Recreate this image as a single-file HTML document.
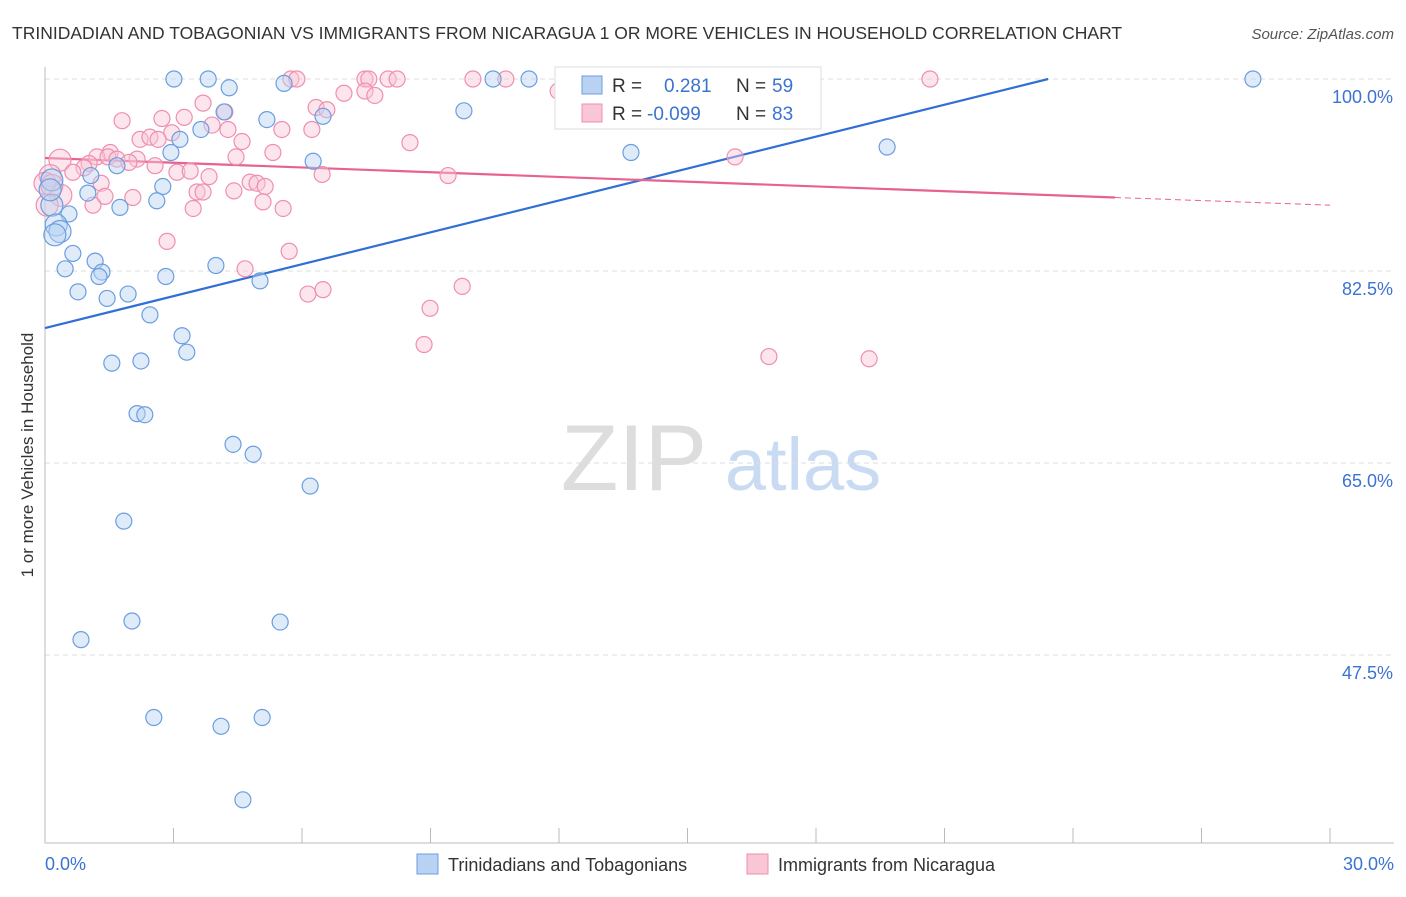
<!DOCTYPE html>
<html><head><meta charset="utf-8"><style>
body{margin:0;background:#fff;font-family:"Liberation Sans",sans-serif}
svg text{font-family:"Liberation Sans",sans-serif}
</style></head><body>
<svg id="chart" width="1406" height="892">
<text x="12" y="39" font-size="17.5" fill="#333">TRINIDADIAN AND TOBAGONIAN VS IMMIGRANTS FROM NICARAGUA 1 OR MORE VEHICLES IN HOUSEHOLD CORRELATION CHART</text>
<text x="1394" y="39" font-size="15" fill="#555" font-style="italic" text-anchor="end">Source: ZipAtlas.com</text>
<text x="0" y="0" transform="translate(33,455) rotate(-90)" font-size="17" fill="#333" text-anchor="middle">1 or more Vehicles in Household</text>
<g><text x="634" y="490" font-size="94" fill="#ddd" font-family="Liberation Serif" text-anchor="middle">ZIP</text><text x="803" y="490" font-size="74" fill="#c9dbf2" text-anchor="middle">atlas</text></g>
<g id="grid"></g><g id="axes"></g><g id="trends"></g><g id="pts"></g>
<g>
<rect x="555" y="67" width="266" height="62" fill="#fff" stroke="#ddd"/>
<rect x="582" y="76" width="20" height="18" fill="#b9d2f2" stroke="#6a9ee0"/>
<rect x="582" y="104" width="20" height="18" fill="#f9c6d6" stroke="#ef8fb0"/>
<text x="612" y="92" font-size="19" fill="#333">R =</text><text x="664" y="92" font-size="19" fill="#3b73d1">0.281</text>
<text x="736" y="92" font-size="19" fill="#333">N =</text><text x="772" y="92" font-size="19" fill="#3b73d1">59</text>
<text x="612" y="120" font-size="19" fill="#333">R =</text><text x="647" y="120" font-size="19" fill="#3b73d1">-0.099</text>
<text x="736" y="120" font-size="19" fill="#333">N =</text><text x="772" y="120" font-size="19" fill="#3b73d1">83</text>
</g>
<g>
<rect x="417" y="854" width="21" height="20" fill="#b9d2f2" stroke="#6a9ee0"/>
<text x="448" y="871" font-size="18" fill="#333">Trinidadians and Tobagonians</text>
<rect x="747" y="854" width="21" height="20" fill="#f9c6d6" stroke="#ef8fb0"/>
<text x="778" y="871" font-size="18" fill="#333">Immigrants from Nicaragua</text>
</g>
</svg>
<script>
const xTicks=[0,3,6,9,12,15,18,21,24,27,30];
const yTicks=[100,82.5,65,47.5];
const yTickLabels=["100.0%","82.5%","65.0%","47.5%"];
const xTickLabels=["0.0%","30.0%"];
const blueX=[3.01,3.81,4.30,5.58,10.46,11.30,28.20,4.18,5.18,6.49,9.78,3.64,3.15,2.94,13.68,19.66,6.26,1.68,1.07,2.75,2.61,1.75,0.16,0.56,0.26,0.35,0.23,0.65,1.17,0.47,1.33,1.26,3.99,2.82,5.02,0.77,1.45,1.94,2.45,3.20,3.31,1.56,2.24,2.15,2.33,4.39,4.86,6.19,1.84,2.03,0.84,5.49,2.54,5.07,4.11,4.62,0.16,0.12,1.00];
const blueY=[100,100,99.2,99.6,100,100,100,97.0,96.3,96.6,97.1,95.4,94.5,93.3,93.3,93.8,92.5,92.1,91.2,90.2,88.9,88.3,88.5,87.7,86.7,86.1,85.8,84.1,83.4,82.7,82.4,82.0,83.0,82.0,81.6,80.6,80.0,80.4,78.5,76.6,75.1,74.1,74.3,69.5,69.4,66.7,65.8,62.9,59.7,50.6,48.9,50.5,41.8,41.8,41.0,34.3,90.8,89.9,89.6];
const pinkX=[5.74,5.88,7.47,7.56,8.01,8.22,9.99,10.76,20.66,11.98,7.47,7.70,6.98,6.33,6.58,3.69,4.20,1.80,2.73,3.25,3.90,4.27,6.23,5.53,2.96,2.22,2.45,2.64,4.60,8.52,1.52,1.21,2.15,5.32,4.46,16.11,0.35,1.03,1.47,1.68,1.96,2.57,0.91,0.65,3.08,3.39,3.83,6.47,9.41,0.12,0.0,1.31,4.79,4.95,5.14,4.41,3.55,3.69,2.05,1.40,0.37,1.12,3.46,5.09,5.56,2.85,5.70,4.67,6.14,6.49,9.74,8.99,8.85,16.90,19.24,0.16,0.05];
const pinkY=[100,100,100,100,100,100,100,100,100,98.9,98.9,98.5,98.7,97.4,97.2,97.8,97.0,96.2,96.4,96.5,95.8,95.4,95.4,95.4,95.1,94.5,94.7,94.5,94.3,94.2,93.3,92.9,92.7,93.3,92.9,92.9,92.6,92.3,92.9,92.7,92.4,92.1,91.9,91.5,91.5,91.6,91.1,91.3,91.2,91.2,90.5,90.5,90.6,90.5,90.2,89.8,89.7,89.7,89.2,89.3,89.4,88.5,88.2,88.8,88.2,85.2,84.3,82.7,80.4,80.8,81.1,79.1,75.8,74.7,74.5,90.3,88.5];
const blueTrend=[[0,77.3],[23.42,100]];
const pinkTrend=[[0,92.8],[24.98,89.2]];
const pinkTrendExt=[[24.98,89.2],[30,88.5]];
const X=v=>45+v/30*1285, Y=v=>79+(100-v)/17.5*192;
const NS="http://www.w3.org/2000/svg";
function mk(p,t,a){const e=document.createElementNS(NS,t);for(const k in a)e.setAttribute(k,a[k]);document.getElementById(p).appendChild(e);return e;}
yTicks.forEach((t,i)=>{
 const l=mk('grid','line',{x1:45,x2:1394,y1:Y(t),y2:Y(t),stroke:'#ddd','stroke-dasharray':'5,4'});
 
 
 const tx=mk('grid','text',{x:1393,y:Y(t)+24,'font-size':18,fill:'#3b73d1','text-anchor':'end'});tx.textContent=yTickLabels[i];
 
 
});
const ax=mk('axes','path',{d:'M45,67V843H1394',stroke:'#bbb',fill:'none'});


xTicks.forEach(t=>{const l=mk('axes','line',{x1:X(t),x2:X(t),y1:828,y2:843,stroke:'#bbb'});
 
 });
[[0,'start',45],[30,'end',1394]].forEach((d,i)=>{const tx=mk('axes','text',{x:d[2],y:870,'font-size':18,fill:'#3b73d1','text-anchor':d[1]});tx.textContent=xTickLabels[i];
 
 });
function dot(x,y,f,s,name,big){const c=mk('pts','circle',{cx:X(x),cy:Y(y),r:big?11:8,fill:f,'fill-opacity':0.45,stroke:s,'stroke-width':1.2});
 
 }
pinkX.forEach((x,i)=>dot(x,pinkY[i],'#f9c6d6','#ef8fb0','nicaragua-point',x<0.4));
blueX.forEach((x,i)=>dot(x,blueY[i],'#b9d2f2','#6a9ee0','trinidadian-point',x<0.4));
function ln(d,c,dash,name){const l=mk('trends','line',{x1:X(d[0][0]),y1:Y(d[0][1]),x2:X(d[1][0]),y2:Y(d[1][1]),stroke:c,'stroke-width':dash?1:2.2,'stroke-dasharray':dash?'6,4':'none'});
 
 }
ln(blueTrend,'#2f6fd6',false,'trinidadian-trend-line');
ln(pinkTrend,'#e8628f',false,'nicaragua-trend-line');
ln(pinkTrendExt,'#e8628f',true,'nicaragua-trend-extension');
</script>
</body></html>
